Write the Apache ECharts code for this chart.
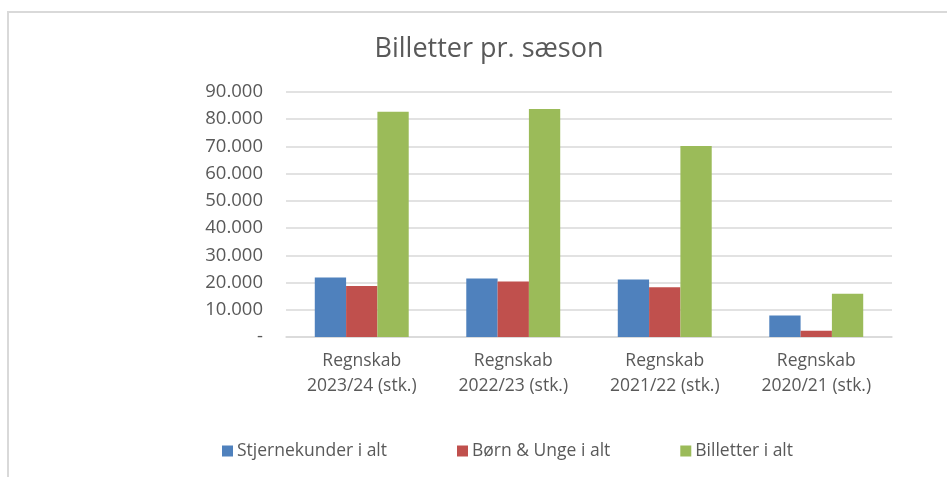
<!DOCTYPE html>
<html>
<head>
<meta charset="utf-8">
<script src="https://cdn.jsdelivr.net/npm/echarts@6/dist/echarts.min.js"></script>
<style>
  html, body { margin: 0; padding: 0; background: #fff; }
  #chart { width: 947px; height: 477px; }
</style>
</head>
<body>
<div id="chart"></div>
<script>
var categories = [
  'Regnskab\n2023/24 (stk.)',
  'Regnskab\n2022/23 (stk.)',
  'Regnskab\n2021/22 (stk.)',
  'Regnskab\n2020/21 (stk.)'
];
var stjernekunder = [21900, 21500, 21100, 7900];
var boernUnge = [18700, 20400, 18300, 2300];
var billetter = [82700, 83800, 70200, 15900];

var font = '"Open Sans", Lato, sans-serif';
var textColor = '#595959';

var chart = echarts.init(document.getElementById('chart'), null, { renderer: 'canvas' });

function fmt(v) {
  if (v === 0) return '-';
  return String(v).replace(/\B(?=(\d{3})+(?!\d))/g, '.');
}

var option = {
  animation: false,
  backgroundColor: '#fff',
  graphic: [{
    type: 'rect',
    shape: { x: 8, y: 12, width: 1000, height: 500 },
    style: { fill: 'none', stroke: '#d9d9d9', lineWidth: 2 },
    silent: true
  }],
  title: {
    text: 'Billetter pr. sæson',
    left: 484,
    textAlign: 'center',
    top: 31,
    textStyle: { fontFamily: font, fontSize: 27, fontWeight: 'normal', color: textColor }
  },
  legend: {
    bottom: 12,
    left: 217,
    itemGap: 70,
    itemWidth: 11,
    itemHeight: 11,
    icon: 'rect',
    textStyle: { fontFamily: font, fontSize: 17.5, color: textColor, padding: [0, 0, 0, -1] },
    data: ['Stjernekunder i alt', 'Børn & Unge i alt', 'Billetter i alt']
  },
  grid: { left: 286, right: 55, top: 92, bottom: 140 },
  xAxis: {
    type: 'category',
    data: categories,
    axisLine: { lineStyle: { color: '#d9d9d9', width: 1.5 } },
    axisTick: { show: false },
    axisLabel: { fontFamily: font, fontSize: 17.5, color: textColor, lineHeight: 25, margin: 12 }
  },
  yAxis: {
    type: 'value',
    min: 0,
    max: 90000,
    interval: 10000,
    axisLine: { show: false },
    axisTick: { show: false },
    splitLine: { lineStyle: { color: '#d9d9d9', width: 1.5 } },
    axisLabel: { fontFamily: font, fontSize: 18.5, color: textColor, margin: 23, formatter: fmt }
  },
  series: [
    { name: 'Stjernekunder i alt', type: 'bar', data: stjernekunder, barGap: '0%', barCategoryGap: '38%',
      itemStyle: { color: '#4f81bd' } },
    { name: 'Børn & Unge i alt', type: 'bar', data: boernUnge, barGap: '0%', barCategoryGap: '38%',
      itemStyle: { color: '#c0504d' } },
    { name: 'Billetter i alt', type: 'bar', data: billetter, barGap: '0%', barCategoryGap: '38%',
      itemStyle: { color: '#9bbb59' } }
  ]
};

chart.setOption(option);
</script>
</body>
</html>
